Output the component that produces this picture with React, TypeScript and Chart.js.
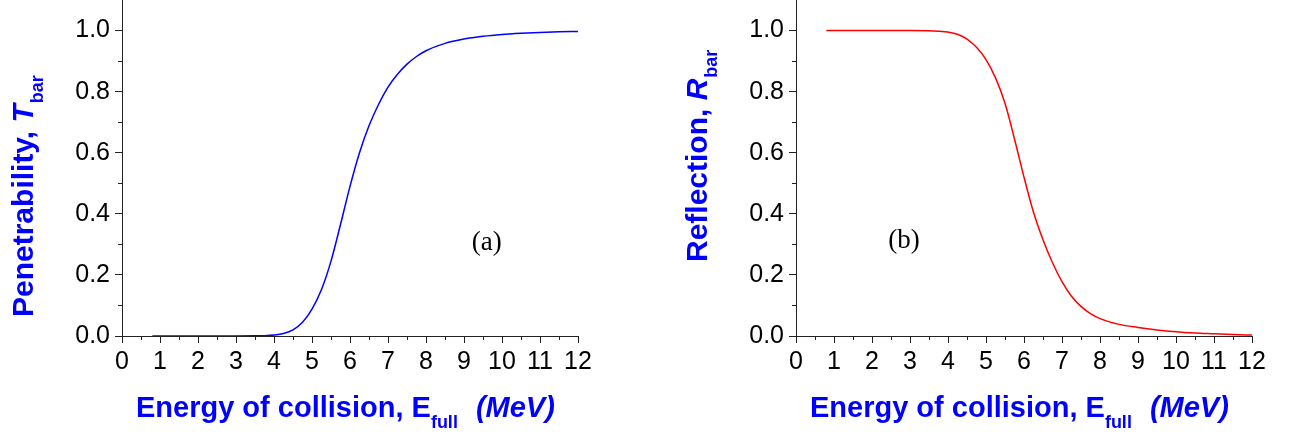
import React, { useEffect, useRef } from "react";
import { Chart, registerables } from "chart.js";

Chart.register(...registerables);

// ---- data ----
const ENERGY = [
  0.8, 1, 1.5, 2, 2.5, 3, 3.5, 3.75, 4, 4.25, 4.5, 4.75, 5, 5.25, 5.5, 5.75, 6, 6.25,
  6.5, 6.75, 7, 7.25, 7.5, 7.75, 8, 8.5, 9, 9.5, 10, 10.5, 11, 11.5, 12,
];
const PENETRABILITY = [
  0, 0, 0, 0, 0, 0, 0.0005, 0.001, 0.003, 0.008, 0.02, 0.045, 0.088, 0.152, 0.245, 0.365,
  0.49, 0.6, 0.688, 0.758, 0.815, 0.857, 0.89, 0.915, 0.934, 0.958, 0.972, 0.981, 0.987,
  0.991, 0.994, 0.996, 0.997,
];
const REFLECTION = [
  1, 1, 1, 1, 1, 1, 0.9995, 0.998, 0.995, 0.988, 0.972, 0.945, 0.905, 0.845, 0.762, 0.645,
  0.52, 0.405, 0.315, 0.24, 0.178, 0.13, 0.097, 0.073, 0.057, 0.038, 0.028, 0.02, 0.014,
  0.01, 0.0075, 0.005, 0.003,
];
const X_TICKS = [0, 1, 2, 3, 4, 5, 6, 7, 8, 9, 10, 11, 12];
const X_MINOR = [0.5, 1.5, 2.5, 3.5, 4.5, 5.5, 6.5, 7.5, 8.5, 9.5, 10.5, 11.5];
const Y_TICKS = [0, 0.2, 0.4, 0.6, 0.8, 1.0];
const Y_MINOR = [0.1, 0.3, 0.5, 0.7, 0.9];
const X_TITLE_MAIN = "Energy of collision, E";
const X_TITLE_SUB = "full";
const X_TITLE_UNIT = "(MeV)";

const SANS = '"Liberation Sans", Arial, sans-serif';
const SERIF = '"Liberation Serif", "Times New Roman", serif';
const AXIS = "#222";
const TITLE_BLUE = "#0000ff";

type PanelProps = {
  left: number;
  width: number;
  values: number[];
  color: string;
  yTitleText: string;
  yTitleSymbol: string;
  yTitleStart: number;
  tag: string;
  tagAt: [number, number];
};

function Panel(props: PanelProps) {
  const ref = useRef<HTMLCanvasElement | null>(null);

  useEffect(() => {
    const canvas = ref.current;
    if (!canvas) return;

    const decor = {
      id: "decor",
      afterDraw(chart: any) {
        const ctx = chart.ctx as CanvasRenderingContext2D;
        const { left: L, bottom: B } = chart.chartArea;
        const xs = chart.scales.x;
        const ys = chart.scales.y;
        ctx.save();
        // minor ticks
        ctx.strokeStyle = AXIS;
        ctx.lineWidth = 1;
        ctx.beginPath();
        for (const v of X_MINOR) {
          const px = Math.round(xs.getPixelForValue(v)) + 0.5;
          ctx.moveTo(px, B);
          ctx.lineTo(px, B + 4);
        }
        for (const v of Y_MINOR) {
          const py = Math.round(ys.getPixelForValue(v)) + 0.5;
          ctx.moveTo(L, py);
          ctx.lineTo(L - 4, py);
        }
        ctx.stroke();

        // x title
        ctx.fillStyle = TITLE_BLUE;
        ctx.textAlign = "left";
        ctx.textBaseline = "alphabetic";
        let x = L + 14;
        const by = B + 81;
        ctx.font = `bold 29px ${SANS}`;
        ctx.fillText(X_TITLE_MAIN, x, by);
        x += ctx.measureText(X_TITLE_MAIN).width;
        ctx.font = `bold 18px ${SANS}`;
        ctx.fillText(X_TITLE_SUB, x, by + 10.5);
        x += ctx.measureText(X_TITLE_SUB).width + 18;
        ctx.font = `italic bold 29px ${SANS}`;
        ctx.fillText(X_TITLE_UNIT, x, by);

        // y title (rotated)
        ctx.save();
        ctx.translate(L - 89, B - props.yTitleStart);
        ctx.rotate(-Math.PI / 2);
        let t = 0;
        ctx.font = `bold 30px ${SANS}`;
        ctx.fillText(props.yTitleText, t, 0);
        t += ctx.measureText(props.yTitleText).width;
        ctx.font = `italic bold 30px ${SANS}`;
        ctx.fillText(props.yTitleSymbol, t, 0);
        t += ctx.measureText(props.yTitleSymbol).width + 1;
        ctx.font = `bold 18px ${SANS}`;
        ctx.fillText("bar", t, 10);
        ctx.restore();

        // panel tag
        ctx.fillStyle = "#000";
        ctx.font = `27px ${SERIF}`;
        ctx.textAlign = "center";
        ctx.textBaseline = "middle";
        ctx.fillText(
          props.tag,
          xs.getPixelForValue(props.tagAt[0]),
          ys.getPixelForValue(props.tagAt[1])
        );
        ctx.restore();
      },
    };

    const chart = new Chart(canvas, {
      type: "line",
      data: {
        datasets: [
          {
            data: ENERGY.map((e, i) => ({ x: e, y: props.values[i] })),
            borderColor: props.color,
            borderWidth: 1.5,
            pointRadius: 0,
            fill: false,
            cubicInterpolationMode: "monotone",
          },
        ],
      },
      options: {
        animation: false,
        responsive: true,
        maintainAspectRatio: false,
        layout: { padding: { left: 0, top: 0, bottom: 0, right: props.width - 578 } },
        plugins: { legend: { display: false }, tooltip: { enabled: false } },
        scales: {
          x: {
            type: "linear",
            min: 0,
            max: 12,
            afterFit: (s: any) => {
              s.height = 96;
              s.paddingLeft = 0;
              s.paddingRight = 0;
            },
            afterBuildTicks: (s: any) => {
              s.ticks = X_TICKS.map((v) => ({ value: v }));
            },
            grid: { drawOnChartArea: false, drawTicks: true, tickLength: 7, color: AXIS, lineWidth: 1 },
            border: { display: true, color: AXIS, width: 1 },
            ticks: {
              color: "#000",
              font: { family: SANS, size: 25 },
              padding: 4,
              maxRotation: 0,
              autoSkip: false,
              callback: (v: any) => String(v),
            },
          },
          y: {
            type: "linear",
            min: 0,
            max: 1.1,
            afterFit: (s: any) => {
              s.width = 122;
              s.paddingTop = 0;
              s.paddingBottom = 0;
            },
            afterBuildTicks: (s: any) => {
              s.ticks = Y_TICKS.map((v) => ({ value: v }));
            },
            grid: { drawOnChartArea: false, drawTicks: true, tickLength: 7, color: AXIS, lineWidth: 1 },
            border: { display: true, color: AXIS, width: 1 },
            ticks: {
              color: "#000",
              font: { family: SANS, size: 25 },
              padding: 5,
              autoSkip: false,
              callback: (v: any) => Number(v).toFixed(1),
            },
          },
        },
      },
      plugins: [decor],
    });
    return () => chart.destroy();
  }, []);

  return (
    <div
      style={{
        position: "absolute",
        left: props.left,
        top: 0,
        width: props.width,
        height: 432,
      }}
    >
      <canvas ref={ref} />
    </div>
  );
}

export default function App() {
  return (
    <div
      style={{
        position: "absolute",
        left: 0,
        top: 0,
        width: 1289,
        height: 432,
        background: "#fff",
        overflow: "hidden",
      }}
    >
      <Panel
        left={0}
        width={640}
        values={PENETRABILITY}
        color="#0000ff"
        yTitleText="Penetrability, "
        yTitleSymbol="T"
        yTitleStart={19}
        tag="(a)"
        tagAt={[9.6, 0.305]}
      />
      <Panel
        left={674}
        width={615}
        values={REFLECTION}
        color="#ff0000"
        yTitleText="Reflection, "
        yTitleSymbol="R"
        yTitleStart={74}
        tag="(b)"
        tagAt={[2.84, 0.31]}
      />
    </div>
  );
}
